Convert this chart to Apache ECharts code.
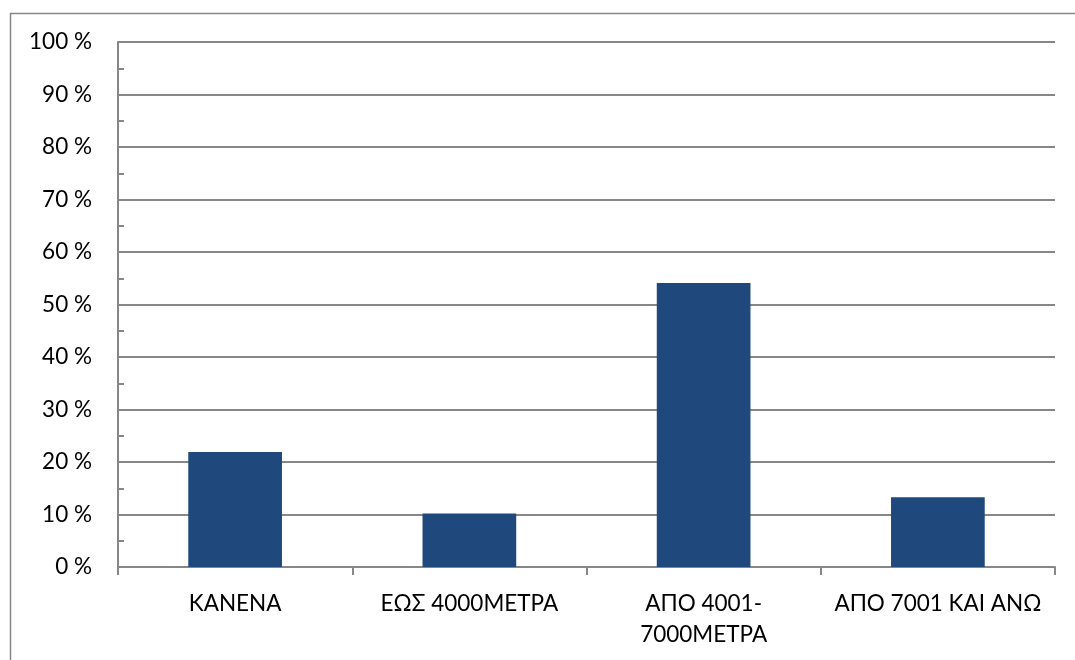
<!DOCTYPE html>
<html>
<head>
<meta charset="utf-8">
<script src="https://cdn.jsdelivr.net/npm/echarts@6/dist/echarts.min.js"></script>
<style>
  html, body { margin: 0; padding: 0; background: #fff; }
  #chart { width: 1075px; height: 660px; }
</style>
</head>
<body>
<div id="chart"></div>
<script>
// Distance categories and share of respondents (%)
const categories = ['ΚΑΝΕΝΑ', 'ΕΩΣ 4000ΜΕΤΡΑ', 'ΑΠΟ 4001-7000ΜΕΤΡΑ', 'ΑΠΟ 7001 ΚΑΙ ΑΝΩ'];
const shares = [21.9, 10.2, 54.1, 13.3];
const yTicks = [0, 10, 20, 30, 40, 50, 60, 70, 80, 90, 100];

const gray = '#878787';
const font = 'Lato, "Open Sans", sans-serif';

const chart = echarts.init(document.getElementById('chart'));
chart.setOption({
  animation: false,
  graphic: [{
    type: 'rect',
    shape: { x: 10.5, y: 13.5, width: 1100, height: 700 },
    style: { fill: 'none', stroke: gray, lineWidth: 1.5 },
    z: -1
  }],
  grid: { left: 118, right: 20, top: 42, bottom: 93 },
  xAxis: {
    type: 'category',
    data: categories,
    axisLine: { lineStyle: { color: gray, width: 2 } },
    axisTick: { show: true, length: 8, lineStyle: { color: gray, width: 2 } },
    axisLabel: {
      color: '#000',
      fontFamily: font,
      fontSize: 22.5,
      margin: 21,
      lineHeight: 31,
      interval: 0,
      formatter: v => v.replace('-', '-\n')
    }
  },
  yAxis: {
    type: 'value',
    min: yTicks[0],
    max: yTicks[yTicks.length - 1],
    interval: 10,
    axisLine: { show: true, lineStyle: { color: gray, width: 2 } },
    axisTick: { show: false, inside: true },
    minorTick: { show: true, splitNumber: 2, length: 6, lineStyle: { color: gray, width: 2 } },
    splitLine: { show: true, lineStyle: { color: gray, width: 2 } },
    axisLabel: {
      color: '#000',
      fontFamily: font,
      fontSize: 22.5,
      margin: 26,
      formatter: v => v + ' %'
    }
  },
  series: [{
    type: 'bar',
    data: shares,
    barWidth: '40%',
    itemStyle: { color: '#1F497D' }
  }]
});
</script>
</body>
</html>
